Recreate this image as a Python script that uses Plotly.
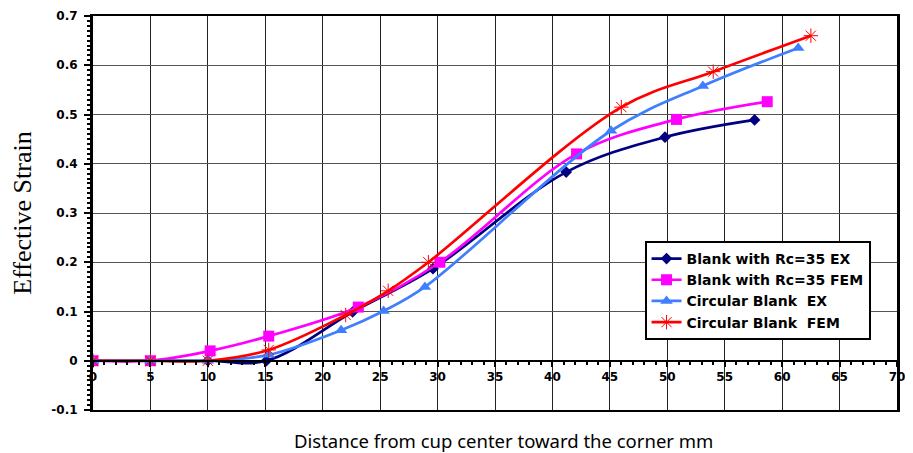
import plotly.graph_objects as go

# ---- data ----
rc35_ex_x = [0, 5, 10, 15.1, 22.6, 29.6, 41.2, 49.8, 57.6]
rc35_ex_y = [0, 0, 0, 0.0, 0.099, 0.187, 0.383, 0.454, 0.489]

rc35_fem_x = [0, 5, 10.2, 15.3, 23.1, 30.2, 42.1, 50.8, 58.7]
rc35_fem_y = [0, 0, 0.02, 0.05, 0.109, 0.2, 0.42, 0.49, 0.526]

circ_ex_x = [0, 5, 10, 15.3, 21.6, 25.3, 28.9, 45.1, 53.1, 61.4]
circ_ex_y = [0, 0, 0, 0.012, 0.062, 0.101, 0.15, 0.467, 0.558, 0.635]

circ_fem_x = [0, 5, 10, 15.3, 22.0, 25.7, 29.2, 46.0, 54.0, 62.5]
circ_fem_y = [0, 0, 0, 0.022, 0.093, 0.142, 0.2, 0.515, 0.587, 0.66]

x_ticks = [0, 5, 10, 15, 20, 25, 30, 35, 40, 45, 50, 55, 60, 65, 70]
y_ticks = [-0.1, 0, 0.1, 0.2, 0.3, 0.4, 0.5, 0.6, 0.7]
y_tick_text = ["-0.1", "0", "0.1", "0.2", "0.3", "0.4", "0.5", "0.6", "0.7"]

names = ["Blank with Rc=35 EX", "Blank with Rc=35 FEM",
         "Circular Blank\u00a0\u00a0EX", "Circular Blank\u00a0\u00a0FEM"]

fig = go.Figure()
series = [
    (rc35_ex_x, rc35_ex_y, "#000080", dict(symbol="diamond", size=9, color="#000080")),
    (rc35_fem_x, rc35_fem_y, "#FF00FF", dict(symbol="square", size=11, color="#FF00FF")),
    (circ_ex_x, circ_ex_y, "#3F7FFF", dict(symbol="triangle-up", size=11, color="#3F7FFF")),
    (circ_fem_x, circ_fem_y, "#FF0000", dict(symbol="asterisk-open", size=12, color="#FF0000",
                                             line=dict(color="#FF0000", width=1))),
]
for (xs, ys, col, mk), nm in zip(series, names):
    fig.add_trace(go.Scatter(x=xs, y=ys, name=nm, mode="lines+markers",
                             line=dict(color=col, width=2.7, shape="spline", smoothing=1.0),
                             marker=mk))

# invisible helper trace so the zero-line axis (x2) is drawn
fig.add_trace(go.Scatter(x=x_ticks, y=[None] * len(x_ticks), xaxis="x2", yaxis="y",
                         mode="markers", showlegend=False, hoverinfo="skip",
                         marker=dict(opacity=0)))

tickfont = dict(family="DejaVu Sans", size=12, color="black", weight="bold")

fig.update_layout(
    width=905, height=445,
    margin=dict(l=85, r=10, t=8, b=43),
    paper_bgcolor="white", plot_bgcolor="white",
    showlegend=True,
    legend=dict(x=0.686, y=0.429, xanchor="left", yanchor="top",
                bgcolor="white", bordercolor="black", borderwidth=2,
                font=dict(family="DejaVu Sans", size=14, color="black", weight="bold")),
    xaxis=dict(range=[0, 70], tickvals=x_ticks, showticklabels=False, ticks="",
               showgrid=True, gridcolor="#222222", gridwidth=1,
               showline=True, linecolor="black", linewidth=2, mirror=True,
               zeroline=False, automargin=False),
    xaxis2=dict(range=[0, 70], overlaying="x", matches="x", anchor="free", position=0.125,
                side="bottom", tickvals=x_ticks, ticktext=[str(v) for v in x_ticks],
                showgrid=False, showline=True, linecolor="black", linewidth=2,
                ticks="outside", ticklen=5, tickwidth=2, tickcolor="black",
                tickfont=tickfont, zeroline=False,
                minor=dict(dtick=1, ticks="outside", ticklen=3, tickwidth=2, tickcolor="black")),
    yaxis=dict(range=[-0.1, 0.7], tickvals=y_ticks, ticktext=y_tick_text,
               showgrid=True, gridcolor="#555555", gridwidth=1,
               showline=True, linecolor="black", linewidth=3, mirror=True,
               ticks="outside", ticklen=6, tickwidth=1.5, tickcolor="black",
               tickfont=tickfont, zeroline=False, ticklabelstandoff=4,
               minor=dict(dtick=0.01, ticks="outside", ticklen=3, tickwidth=1.5, tickcolor="black"),
               title=dict(text="Effective Strain",
                          font=dict(family="Liberation Serif, Times New Roman", size=26, color="black"),
                          standoff=14),
               automargin=False),
    annotations=[dict(text="Distance from cup center toward the corner mm",
                      xref="paper", yref="paper", x=0.5, y=0, xanchor="center", yanchor="middle",
                      xshift=8, yshift=-30, showarrow=False,
                      font=dict(family="Noto Sans", size=18.5, color="black"))],
)

fig.write_html("out.html")
